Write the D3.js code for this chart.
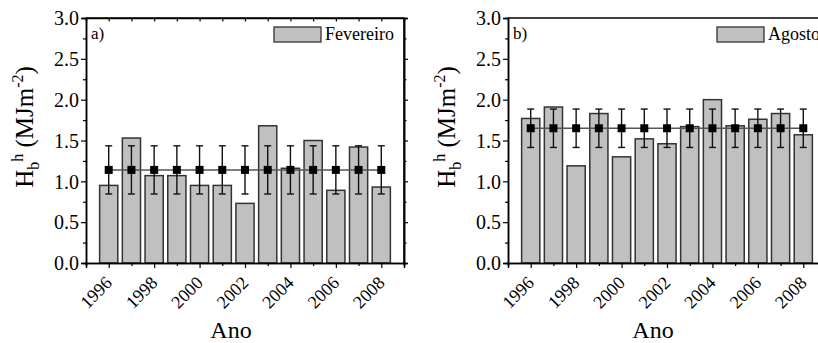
<!DOCTYPE html>
<html>
<head>
<meta charset="utf-8">
<script src="https://cdn.jsdelivr.net/npm/d3@7"></script>
<style>
    body { margin: 0; background: #fff; }
</style>
</head>
<body>
<script>
(function () {
    'use strict';

    var SERIF = 'Liberation Serif';

    var years = [1996, 1997, 1998, 1999, 2000, 2001, 2002, 2003, 2004, 2005, 2006, 2007, 2008];
    var yearLabels = [1996, 1998, 2000, 2002, 2004, 2006, 2008];
    var minorYears = [1995, 1997, 1999, 2001, 2003, 2005, 2007, 2009];
    var yTicks = [0, 0.5, 1.0, 1.5, 2.0, 2.5, 3.0];
    var yMinor = [0.25, 0.75, 1.25, 1.75, 2.25, 2.75];

    var fevereiro = [0.95, 1.53, 1.07, 1.07, 0.95, 0.95, 0.73, 1.68, 1.16, 1.50, 0.89, 1.42, 0.93];
    var fevereiroMedia = 1.14;
    var fevereiroDesvio = 0.295;

    var agosto = [1.77, 1.91, 1.19, 1.83, 1.30, 1.52, 1.46, 1.67, 2.00, 1.68, 1.76, 1.83, 1.57];
    var agostoMedia = 1.65;
    var agostoDesvio = 0.235;

    var svg = d3.select('body').append('svg')
        .attr('width', 818)
        .attr('height', 343)
        .style('display', 'block')
        .attr('font-family', SERIF);

    _drawPanel({ left: 86, tag: 'a)', name: 'Fevereiro', values: fevereiro, mean: fevereiroMedia, sd: fevereiroDesvio, frameRight: true });
    _drawPanel({ left: 508, tag: 'b)', name: 'Agosto', values: agosto, mean: agostoMedia, sd: agostoDesvio, frameRight: false });

    function _drawPanel(opt) {
        var top = 18, bottom = 263;
        var g = svg.append('g').attr('font-family', SERIF);

        var x = d3.scaleLinear().domain([1995, 2009]).range([opt.left, opt.left + 318]);
        var y = d3.scaleLinear().domain([0, 3]).range([bottom, top]);
        var bw = x(1995.8) - x(1995);

        // bars
        g.selectAll('rect.bar')
            .data(opt.values)
            .enter().append('rect')
            .attr('class', 'bar')
            .attr('x', function (d, i) { return x(years[i]) - bw / 2; })
            .attr('y', function (d) { return y(d); })
            .attr('width', bw)
            .attr('height', function (d) { return y(0) - y(d); })
            .style('fill', '#c0c0c0')
            .style('stroke', '#333')
            .style('stroke-width', 1.5);

        // mean line
        g.append('line')
            .attr('x1', x(years[0]))
            .attr('x2', x(years[years.length - 1]))
            .attr('y1', y(opt.mean))
            .attr('y2', y(opt.mean))
            .style('stroke', '#555')
            .style('stroke-width', 1.5);

        // error bars
        var eb = g.selectAll('g.err')
            .data(years)
            .enter().append('g')
            .attr('class', 'err');
        eb.append('line')
            .attr('x1', function (d) { return x(d); })
            .attr('x2', function (d) { return x(d); })
            .attr('y1', y(opt.mean - opt.sd))
            .attr('y2', y(opt.mean + opt.sd));
        eb.append('line')
            .attr('x1', function (d) { return x(d) - 3.5; })
            .attr('x2', function (d) { return x(d) + 3.5; })
            .attr('y1', y(opt.mean + opt.sd))
            .attr('y2', y(opt.mean + opt.sd));
        eb.append('line')
            .attr('x1', function (d) { return x(d) - 3.5; })
            .attr('x2', function (d) { return x(d) + 3.5; })
            .attr('y1', y(opt.mean - opt.sd))
            .attr('y2', y(opt.mean - opt.sd));
        eb.selectAll('line')
            .style('stroke', '#111')
            .style('stroke-width', 1.4);
        eb.append('rect')
            .attr('x', function (d) { return x(d) - 4; })
            .attr('y', y(opt.mean) - 4)
            .attr('width', 8)
            .attr('height', 8)
            .style('fill', '#000');

        // frame
        g.append('line').attr('x1', opt.left).attr('x2', opt.left + 318).attr('y1', top).attr('y2', top)
            .style('stroke', '#000').style('stroke-width', 1.5);
        if (opt.frameRight) {
            g.append('line').attr('x1', opt.left + 318).attr('x2', opt.left + 318).attr('y1', top).attr('y2', bottom)
                .style('stroke', '#000').style('stroke-width', 1.5);
            g.append('g')
                .attr('transform', 'translate(' + (opt.left + 318) + ',0)')
                .call(d3.axisRight(y).tickValues(yTicks).tickSize(4).tickFormat(''))
                .call(_axisStyle);
            g.append('g')
                .attr('transform', 'translate(' + (opt.left + 318) + ',0)')
                .call(d3.axisRight(y).tickValues(yMinor).tickSize(2.5).tickFormat(''))
                .call(_axisStyle);
            g.append('g')
                .attr('transform', 'translate(0,' + top + ')')
                .call(d3.axisBottom(x).tickValues(years).tickSize(3.5).tickFormat(''))
                .call(_axisStyle);
        }

        // y axis
        var ya = g.append('g')
            .attr('transform', 'translate(' + opt.left + ',0)')
            .call(d3.axisLeft(y).tickValues(yTicks).tickSize(5).tickPadding(2).tickFormat(d3.format('.1f')))
            .call(_axisStyle);
        ya.selectAll('text').style('font-size', '20px').attr('dy', '0.34em');
        g.append('g')
            .attr('transform', 'translate(' + opt.left + ',0)')
            .call(d3.axisLeft(y).tickValues(yMinor).tickSize(3).tickFormat(''))
            .call(_axisStyle);

        // x axis
        var xa = g.append('g')
            .attr('transform', 'translate(0,' + bottom + ')')
            .call(d3.axisBottom(x).tickValues(yearLabels).tickSize(5).tickFormat(d3.format('d')))
            .call(_axisStyle);
        xa.selectAll('text')
            .style('font-size', '18px')
            .style('text-anchor', 'end')
            .attr('dy', null)
            .attr('y', null)
            .attr('transform', 'translate(4,21) rotate(-45)');
        g.append('g')
            .attr('transform', 'translate(0,' + bottom + ')')
            .call(d3.axisBottom(x).tickValues(minorYears).tickSize(3).tickFormat(''))
            .call(_axisStyle);

        // axis titles
        g.append('text')
            .attr('x', opt.left + 145)
            .attr('y', 338)
            .attr('text-anchor', 'middle')
            .style('font-size', '24px')
            .text('Ano');

        var yl = g.append('text')
            .attr('transform', 'translate(' + (opt.left - 53) + ',127) rotate(-90)')
            .attr('text-anchor', 'middle')
            .style('font-size', '25px');
        yl.append('tspan').text('H');
        yl.append('tspan').attr('dy', 6).style('font-size', '16px').text('b');
        yl.append('tspan').attr('dy', -16).style('font-size', '16px').text('h');
        yl.append('tspan').attr('dy', 10).text(' (MJm');
        yl.append('tspan').attr('dy', -10).style('font-size', '16px').text('-2');
        yl.append('tspan').attr('dy', 10).text(')');

        // panel tag
        g.append('text')
            .attr('x', opt.left + 5)
            .attr('y', 39)
            .style('font-size', '17px')
            .text(opt.tag);

        // legend
        var lx = opt.left + (opt.frameRight ? 188 : 209);
        g.append('rect')
            .attr('x', lx)
            .attr('y', 27)
            .attr('width', 47)
            .attr('height', 15)
            .style('fill', '#c0c0c0')
            .style('stroke', '#333')
            .style('stroke-width', 1.3);
        g.append('text')
            .attr('x', lx + 51)
            .attr('y', 40)
            .style('font-size', '18px')
            .text(opt.name);
    }

    function _axisStyle(sel) {
        sel.attr('font-family', SERIF);
        sel.select('.domain').style('stroke', '#000').style('stroke-width', 1.5);
        sel.selectAll('.tick line').style('stroke', '#000').style('stroke-width', 1.2);
        sel.selectAll('text').style('fill', '#000');
    }
})();
</script>
</body>
</html>
